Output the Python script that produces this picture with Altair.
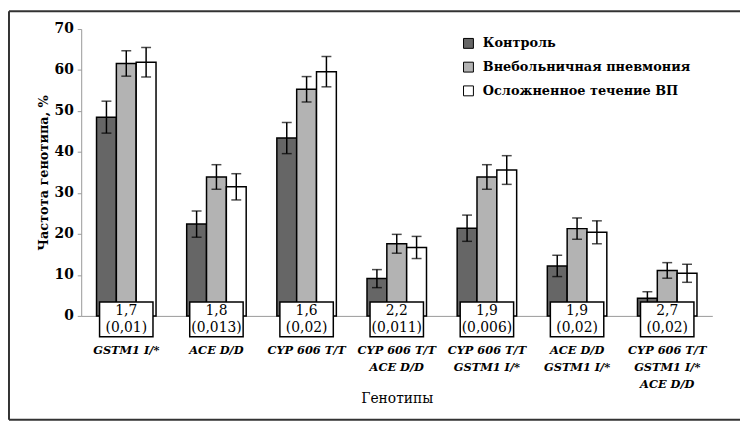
import altair as alt
import pandas as pd

groups = ["GSTM1 I/*", "ACE  D/D", "CYP 606 T/T", "CYP 606 T/T|ACE D/D",
          "CYP 606 T/T|GSTM1 I/*", "ACE D/D|GSTM1 I/*", "CYP 606 T/T|GSTM1 I/*|ACE D/D"]
series = ["Контроль", "Внебольничная пневмония", "Осложненное течение ВП"]
control = [48.5, 22.4, 43.4, 9.1, 21.4, 12.2, 4.3]
control_err = [3.9, 3.2, 3.8, 2.2, 3.2, 2.6, 1.6]
cap = [61.6, 33.9, 55.3, 17.6, 33.9, 21.3, 11.1]
cap_err = [3.1, 3.0, 3.1, 2.3, 3.0, 2.6, 1.9]
comp = [61.9, 31.5, 59.6, 16.7, 35.6, 20.4, 10.4]
comp_err = [3.6, 3.2, 3.7, 2.7, 3.5, 2.8, 2.2]
or_vals = ["1,7", "1,8", "1,6", "2,2", "1,9", "1,9", "2,7"]
p_vals = ["(0,01)", "(0,013)", "(0,02)", "(0,011)", "(0,006)", "(0,02)", "(0,02)"]
colors = ["#666666", "#b3b3b3", "#ffffff"]

rows = []
for s, vals, errs in zip(series, [control, cap, comp], [control_err, cap_err, comp_err]):
    for g, v, e in zip(groups, vals, errs):
        rows.append({"group": g, "series": s, "value": v, "lo": v - e, "hi": v + e})
df = pd.DataFrame(rows)
ann = pd.DataFrame({"group": groups, "or": or_vals, "p": p_vals})

FONT = "DejaVu Serif"

xenc = alt.X("group:N", sort=groups,
             scale=alt.Scale(paddingInner=0.34, paddingOuter=0.17),
             axis=alt.Axis(title="Генотипы", labelExpr="split(datum.label, '|')",
                           labelAngle=0, ticks=False, labelPadding=29,
                           labelFont=FONT, labelFontSize=11.5, labelFontWeight="bold",
                           labelFontStyle="italic", labelLineHeight=17, labelColor="#000",
                           domainColor="#999999", domainWidth=1,
                           titleFont=FONT, titleFontSize=14, titleFontWeight="normal",
                           titleColor="#000", titleY=84, titleBaseline="middle"))
yscale = alt.Scale(domain=[0, 70], nice=False)
xoff = alt.XOffset("series:N", sort=series)

bars = alt.Chart(df).mark_bar(stroke="#000", strokeWidth=1.5).encode(
    x=xenc,
    xOffset=xoff,
    y=alt.Y("value:Q", scale=yscale,
            axis=alt.Axis(title="Частота генотипа, %", values=list(range(0, 71, 10)),
                          grid=False, tickSize=4, tickColor="#999999",
                          domainColor="#999999", labelPadding=4,
                          labelFont=FONT, labelFontSize=14, labelFontWeight="bold",
                          labelColor="#000", titleFont=FONT, titleFontSize=13,
                          titleFontWeight="bold", titleColor="#000",
                          titleX=-38, titleY=145, titleBaseline="middle")),
    color=alt.Color("series:N", sort=series,
                    scale=alt.Scale(domain=series, range=colors),
                    legend=alt.Legend(title=None, orient="none", legendX=385, legendY=8,
                                      symbolType="square", symbolSize=100,
                                      symbolStrokeColor="#000", symbolStrokeWidth=1,
                                      labelFont=FONT, labelFontSize=13, labelLimit=400,
                                      labelFontWeight="bold", labelColor="#000",
                                      labelOffset=8, rowPadding=9)),
)

rules = alt.Chart(df).mark_rule(color="#000", strokeWidth=1.5).encode(
    x=alt.X("group:N", sort=groups), xOffset=xoff,
    y=alt.Y("lo:Q", scale=yscale), y2="hi:Q")
caps_hi = alt.Chart(df).mark_tick(color="#000", size=10, thickness=1.5).encode(
    x=alt.X("group:N", sort=groups), xOffset=xoff, y=alt.Y("hi:Q", scale=yscale))
caps_lo = alt.Chart(df).mark_tick(color="#000", size=10, thickness=1.5).encode(
    x=alt.X("group:N", sort=groups), xOffset=xoff, y=alt.Y("lo:Q", scale=yscale))

boxes = alt.Chart(ann).mark_bar(width=54, fill="#fff", stroke="#000", strokeWidth=1.5).encode(
    x=alt.X("group:N", sort=groups), y=alt.value(276), y2=alt.value(311))
t1 = alt.Chart(ann).mark_text(font=FONT, fontSize=14, color="#000").encode(
    x=alt.X("group:N", sort=groups), y=alt.value(285), text="or:N")
t2 = alt.Chart(ann).mark_text(font=FONT, fontSize=14, color="#000").encode(
    x=alt.X("group:N", sort=groups), y=alt.value(302), text="p:N")

frame_src = pd.DataFrame({"k": [0]})
fr = alt.Chart(frame_src).mark_rule(color="#333333", strokeWidth=2)
frame_top = fr.encode(x=alt.value(-73), x2=alt.value(700), y=alt.value(-18))
frame_bot = fr.encode(x=alt.value(-73), x2=alt.value(700), y=alt.value(395))
frame_left = fr.encode(x=alt.value(-73), y=alt.value(-18), y2=alt.value(395))

chart = alt.layer(frame_top, frame_bot, frame_left, bars, rules, caps_hi, caps_lo,
                  boxes, t1, t2).properties(
    width=638, height=290,
    autosize=alt.AutoSizeParams(type="none"),
    padding={"left": 74, "top": 19, "right": 28, "bottom": 107},
).configure_view(stroke=None)

chart.save("out.html", embed_options={"renderer": "svg", "actions": False})
